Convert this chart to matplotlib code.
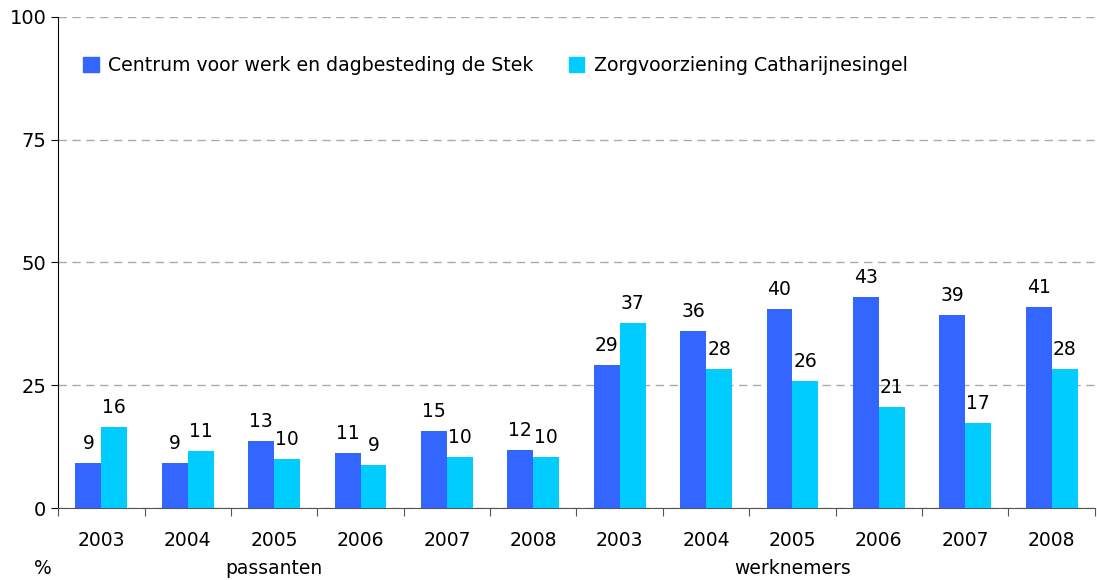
import matplotlib
matplotlib.use('Agg')
import matplotlib.pyplot as plt
from matplotlib.patches import Patch
import numpy as np

# data
years = ['2003', '2004', '2005', '2006', '2007', '2008'] * 2
groups = ['passanten', 'werknemers']
series_names = ['Centrum voor werk en dagbesteding de Stek', 'Zorgvoorziening Catharijnesingel']
stek = [9.2, 9.2, 13.6, 11.2, 15.7, 11.8, 29.1, 36.0, 40.5, 43.0, 39.3, 40.9]
catharijne = [16.5, 11.6, 10.0, 8.8, 10.4, 10.4, 37.7, 28.3, 25.9, 20.6, 17.3, 28.3]
stek_labels = [9, 9, 13, 11, 15, 12, 29, 36, 40, 43, 39, 41]
catharijne_labels = [16, 11, 10, 9, 10, 10, 37, 28, 26, 21, 17, 28]

plt.rcParams['font.family'] = ['DejaVu Sans']
fig = plt.figure(figsize=(10.97, 5.80), dpi=100)
ax = fig.add_axes([0.053, 0.124, 0.945, 0.847])

x = np.arange(len(years))
w = 0.3
blue, cyan = '#3366FF', '#00CCFF'
ax.bar(x - w / 2, stek, w, color=blue, zorder=3)
ax.bar(x + w / 2, catharijne, w, color=cyan, zorder=3)

for i in range(len(x)):
    ax.text(x[i] - w / 2, stek[i] + 2, str(stek_labels[i]), ha='center', va='bottom', fontsize=13.5)
    ax.text(x[i] + w / 2, catharijne[i] + 2, str(catharijne_labels[i]), ha='center', va='bottom', fontsize=13.5)

ax.set_xlim(-0.5, len(x) - 0.5)
ax.set_ylim(0, 100)
ax.set_yticks([0, 25, 50, 75, 100])
ax.tick_params(axis='y', labelsize=14, length=5, direction='out')
ax.yaxis.grid(True, linestyle=(0, (6, 4)), color='#AAAAAA', linewidth=1)
ax.set_axisbelow(True)

ax.set_xticks(np.arange(len(x) + 1) - 0.5)
ax.set_xticklabels([])
ax.tick_params(axis='x', length=6, color='#555555')
for i, y in enumerate(years):
    ax.text(x[i], -4.7, y, ha='center', va='top', fontsize=13.5)
for j, g in enumerate(groups):
    ax.text(2 + 6 * j, -10.3, g, ha='center', va='top', fontsize=13.5)
ax.text(-0.68, -10.3, '%', ha='center', va='top', fontsize=13.5)

for s in ['top', 'right']:
    ax.spines[s].set_visible(False)
ax.spines['bottom'].set_color('#555555')

handles = [Patch(color=blue), Patch(color=cyan)]
ax.legend(handles, series_names, loc='upper left', bbox_to_anchor=(0.008, 0.955), ncol=2,
          frameon=False, fontsize=13.6, handlelength=0.8, handleheight=0.8,
          handletextpad=0.5, columnspacing=1.9)

fig.savefig('out.png')
